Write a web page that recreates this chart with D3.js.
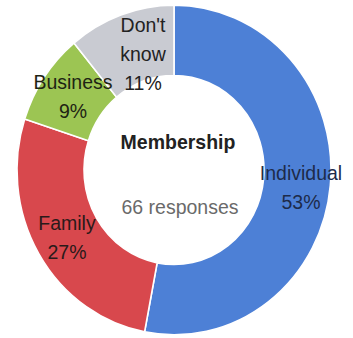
<!DOCTYPE html>
<html>
<head>
<meta charset="utf-8">
<script src="https://cdn.jsdelivr.net/npm/d3@7"></script>
<style>
  html, body { margin: 0; padding: 0; background: #ffffff; }
  svg { display: block; }
  text { font-family: "Liberation Sans", Arial, sans-serif; }
</style>
</head>
<body>
<svg id="chart" width="353" height="338"></svg>
<script>
// Membership survey breakdown (percent of 66 responses)
const categories = ["Individual", "Family", "Business", "Don't know"];
const values = [53, 27, 9, 11];
const colors = ["#4d80d6", "#d8484d", "#9cc553", "#c9cbd2"];
const title = "Membership";
const subtitle = "66 responses";

const width = 353, height = 338;
const cx = 174, cy = 170;
const outerR = 157, innerR = 90;
const squash = 1.05; // vertical stretch of the ring

const svg = d3.select("#chart");

const pie = d3.pie().sort(null).value(d => d.value).startAngle(0).endAngle(2 * Math.PI);
const data = categories.map((c, i) => ({ name: c, value: values[i], color: colors[i] }));
const arcs = pie(data);

const arc = d3.arc().innerRadius(innerR).outerRadius(outerR);

const ring = svg.append("g")
  .attr("transform", `translate(${cx},${cy}) scale(1,${squash})`);

ring.selectAll("path")
  .data(arcs)
  .join("path")
  .attr("d", arc)
  .attr("fill", d => d.data.color)
  .attr("stroke", "#ffffff")
  .attr("stroke-width", 1.6);

// Slice labels: name and percentage, placed per slice
const labelPos = {
  "Individual": { x: 301, y: 173, lines: null, fill: "#1d2b4a" },
  "Family": { x: 67, y: 223, fill: "#2a1a1a" },
  "Business": { x: 73, y: 82, fill: "#1e2414" },
  "Don't know": { x: 143, y: 25, fill: "#222222", split: true }
};
const lineH = 29;

arcs.forEach(a => {
  const p = labelPos[a.data.name];
  const lines = p.split
    ? [...a.data.name.split(" "), a.data.value + "%"]
    : [a.data.name, a.data.value + "%"];
  lines.forEach((t, i) => {
    svg.append("text")
      .attr("transform", `translate(${p.x},${p.y + i * lineH}) scale(1,${squash})`)
      .attr("text-anchor", "middle")
      .attr("dominant-baseline", "central")
      .attr("font-size", 19.5)
      .attr("fill", p.fill)
      .text(t);
  });
});

// Centre titles
svg.append("text")
  .attr("transform", `translate(178,142) scale(1,${squash})`)
  .attr("text-anchor", "middle")
  .attr("dominant-baseline", "central")
  .attr("font-size", 19.5)
  .attr("font-weight", "bold")
  .attr("fill", "#222222")
  .text(title);

svg.append("text")
  .attr("transform", `translate(180,207) scale(1,${squash})`)
  .attr("text-anchor", "middle")
  .attr("dominant-baseline", "central")
  .attr("font-size", 19.5)
  .attr("fill", "#6a6a6a")
  .text(subtitle);
</script>
</body>
</html>
